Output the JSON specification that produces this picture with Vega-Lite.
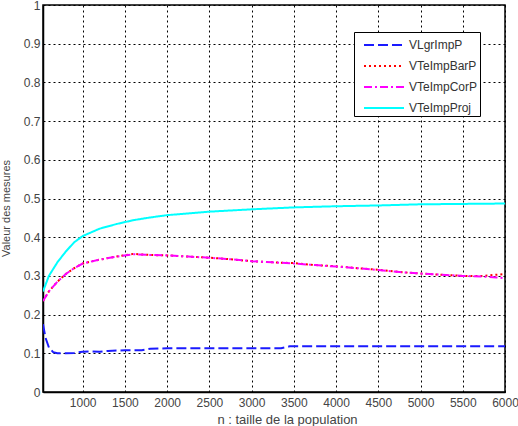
{
  "$schema": "https://vega.github.io/schema/vega-lite/v6.json",
  "autosize": {"type": "none"},
  "width": 462,
  "height": 387,
  "padding": {"left": 43, "top": 5, "right": 13, "bottom": 34},
  "background": "white",
  "config": {
    "view": {"stroke": "black", "strokeWidth": 1.5},
    "font": "Liberation Sans",
    "axis": {
      "labelColor": "#444444",
      "titleColor": "#444444",
      "labelFont": "Liberation Sans",
      "titleFont": "Liberation Sans",
      "labelFontSize": 12,
      "titleFontSize": 11,
      "titleFontWeight": "normal",
      "domainColor": "black",
      "domainWidth": 1.5,
      "gridColor": "black",
      "gridOpacity": 1,
      "gridDash": [2, 3],
      "gridWidth": 1,
      "ticks": false
    }
  },
  "data": {"values": [
    {"n": 530, "s": "VLgrImpP", "v": 0.175},
    {"n": 560, "s": "VLgrImpP", "v": 0.14},
    {"n": 600, "s": "VLgrImpP", "v": 0.115},
    {"n": 650, "s": "VLgrImpP", "v": 0.103},
    {"n": 700, "s": "VLgrImpP", "v": 0.1},
    {"n": 800, "s": "VLgrImpP", "v": 0.1},
    {"n": 900, "s": "VLgrImpP", "v": 0.101},
    {"n": 1000, "s": "VLgrImpP", "v": 0.104},
    {"n": 1100, "s": "VLgrImpP", "v": 0.105},
    {"n": 1200, "s": "VLgrImpP", "v": 0.104},
    {"n": 1300, "s": "VLgrImpP", "v": 0.106},
    {"n": 1500, "s": "VLgrImpP", "v": 0.108},
    {"n": 1700, "s": "VLgrImpP", "v": 0.108},
    {"n": 1800, "s": "VLgrImpP", "v": 0.112},
    {"n": 2000, "s": "VLgrImpP", "v": 0.113},
    {"n": 2500, "s": "VLgrImpP", "v": 0.113},
    {"n": 3000, "s": "VLgrImpP", "v": 0.113},
    {"n": 3350, "s": "VLgrImpP", "v": 0.113},
    {"n": 3450, "s": "VLgrImpP", "v": 0.118},
    {"n": 4000, "s": "VLgrImpP", "v": 0.118},
    {"n": 4500, "s": "VLgrImpP", "v": 0.118},
    {"n": 5000, "s": "VLgrImpP", "v": 0.118},
    {"n": 5500, "s": "VLgrImpP", "v": 0.118},
    {"n": 6000, "s": "VLgrImpP", "v": 0.118},

    {"n": 530, "s": "VTeImpBarP", "v": 0.235},
    {"n": 600, "s": "VTeImpBarP", "v": 0.26},
    {"n": 700, "s": "VTeImpBarP", "v": 0.285},
    {"n": 800, "s": "VTeImpBarP", "v": 0.305},
    {"n": 900, "s": "VTeImpBarP", "v": 0.32},
    {"n": 1000, "s": "VTeImpBarP", "v": 0.332},
    {"n": 1200, "s": "VTeImpBarP", "v": 0.342},
    {"n": 1400, "s": "VTeImpBarP", "v": 0.35},
    {"n": 1600, "s": "VTeImpBarP", "v": 0.357},
    {"n": 1800, "s": "VTeImpBarP", "v": 0.354},
    {"n": 2000, "s": "VTeImpBarP", "v": 0.353},
    {"n": 2250, "s": "VTeImpBarP", "v": 0.35},
    {"n": 2500, "s": "VTeImpBarP", "v": 0.347},
    {"n": 2750, "s": "VTeImpBarP", "v": 0.343},
    {"n": 3000, "s": "VTeImpBarP", "v": 0.338},
    {"n": 3250, "s": "VTeImpBarP", "v": 0.335},
    {"n": 3500, "s": "VTeImpBarP", "v": 0.333},
    {"n": 3750, "s": "VTeImpBarP", "v": 0.328},
    {"n": 4000, "s": "VTeImpBarP", "v": 0.325},
    {"n": 4250, "s": "VTeImpBarP", "v": 0.32},
    {"n": 4500, "s": "VTeImpBarP", "v": 0.316},
    {"n": 4750, "s": "VTeImpBarP", "v": 0.31},
    {"n": 5000, "s": "VTeImpBarP", "v": 0.306},
    {"n": 5250, "s": "VTeImpBarP", "v": 0.303},
    {"n": 5500, "s": "VTeImpBarP", "v": 0.3},
    {"n": 5750, "s": "VTeImpBarP", "v": 0.3},
    {"n": 5900, "s": "VTeImpBarP", "v": 0.303},
    {"n": 6000, "s": "VTeImpBarP", "v": 0.305},

    {"n": 530, "s": "VTeImpCorP", "v": 0.235},
    {"n": 600, "s": "VTeImpCorP", "v": 0.26},
    {"n": 700, "s": "VTeImpCorP", "v": 0.285},
    {"n": 800, "s": "VTeImpCorP", "v": 0.305},
    {"n": 900, "s": "VTeImpCorP", "v": 0.32},
    {"n": 1000, "s": "VTeImpCorP", "v": 0.332},
    {"n": 1200, "s": "VTeImpCorP", "v": 0.342},
    {"n": 1400, "s": "VTeImpCorP", "v": 0.35},
    {"n": 1600, "s": "VTeImpCorP", "v": 0.356},
    {"n": 1800, "s": "VTeImpCorP", "v": 0.354},
    {"n": 2000, "s": "VTeImpCorP", "v": 0.353},
    {"n": 2250, "s": "VTeImpCorP", "v": 0.35},
    {"n": 2500, "s": "VTeImpCorP", "v": 0.347},
    {"n": 2750, "s": "VTeImpCorP", "v": 0.343},
    {"n": 3000, "s": "VTeImpCorP", "v": 0.338},
    {"n": 3250, "s": "VTeImpCorP", "v": 0.335},
    {"n": 3500, "s": "VTeImpCorP", "v": 0.332},
    {"n": 3750, "s": "VTeImpCorP", "v": 0.328},
    {"n": 4000, "s": "VTeImpCorP", "v": 0.324},
    {"n": 4250, "s": "VTeImpCorP", "v": 0.32},
    {"n": 4500, "s": "VTeImpCorP", "v": 0.315},
    {"n": 4750, "s": "VTeImpCorP", "v": 0.31},
    {"n": 5000, "s": "VTeImpCorP", "v": 0.306},
    {"n": 5250, "s": "VTeImpCorP", "v": 0.303},
    {"n": 5500, "s": "VTeImpCorP", "v": 0.3},
    {"n": 5750, "s": "VTeImpCorP", "v": 0.298},
    {"n": 5900, "s": "VTeImpCorP", "v": 0.296},
    {"n": 6000, "s": "VTeImpCorP", "v": 0.294},

    {"n": 530, "s": "VTeImpProj", "v": 0.26},
    {"n": 600, "s": "VTeImpProj", "v": 0.3},
    {"n": 700, "s": "VTeImpProj", "v": 0.335},
    {"n": 800, "s": "VTeImpProj", "v": 0.363},
    {"n": 900, "s": "VTeImpProj", "v": 0.387},
    {"n": 1000, "s": "VTeImpProj", "v": 0.403},
    {"n": 1200, "s": "VTeImpProj", "v": 0.422},
    {"n": 1400, "s": "VTeImpProj", "v": 0.434},
    {"n": 1600, "s": "VTeImpProj", "v": 0.444},
    {"n": 1800, "s": "VTeImpProj", "v": 0.451},
    {"n": 2000, "s": "VTeImpProj", "v": 0.457},
    {"n": 2500, "s": "VTeImpProj", "v": 0.466},
    {"n": 3000, "s": "VTeImpProj", "v": 0.472},
    {"n": 3500, "s": "VTeImpProj", "v": 0.477},
    {"n": 4000, "s": "VTeImpProj", "v": 0.48},
    {"n": 4500, "s": "VTeImpProj", "v": 0.482},
    {"n": 5000, "s": "VTeImpProj", "v": 0.485},
    {"n": 5500, "s": "VTeImpProj", "v": 0.486},
    {"n": 6000, "s": "VTeImpProj", "v": 0.487}
  ]},
  "mark": {"type": "line", "clip": true},
  "encoding": {
    "x": {
      "field": "n", "type": "quantitative",
      "scale": {"domain": [530, 6000], "nice": false, "zero": false},
      "axis": {
        "title": "n : taille de la population",
        "titleFontSize": 13,
        "titleX": 244,
        "titleAlign": "center",
        "values": [1000, 1500, 2000, 2500, 3000, 3500, 4000, 4500, 5000, 5500, 6000],
        "format": "d",
        "labelPadding": 5,
        "titlePadding": 5,
        "labelOverlap": false,
        "labelFlush": false
      }
    },
    "y": {
      "field": "v", "type": "quantitative",
      "scale": {"domain": [0, 1], "nice": false},
      "axis": {
        "title": "Valeur des mesures",
        "values": [0, 0.1, 0.2, 0.3, 0.4, 0.5, 0.6, 0.7, 0.8, 0.9, 1],
        "format": "~g",
        "labelPadding": 3,
        "titleX": -37,
        "titleY": 203,
        "titleAngle": -90,
        "titleAlign": "center",
        "titleBaseline": "middle",
        "labelOverlap": false,
        "labelFlush": false
      }
    },
    "color": {
      "field": "s", "type": "nominal",
      "scale": {
        "domain": ["VLgrImpP", "VTeImpBarP", "VTeImpCorP", "VTeImpProj"],
        "range": ["#1a1aff", "#ff0000", "#ff00ff", "#00ffff"]
      },
      "legend": {
        "title": null,
        "orient": "none",
        "legendX": 311,
        "legendY": 27,
        "fillColor": "white",
        "strokeColor": "black",
        "padding": 2,
        "symbolType": "M-2,0H2",
        "symbolSize": 400,
        "symbolOffset": 17,
        "symbolStrokeWidth": 2.5,
        "rowPadding": 4,
        "labelFontSize": 12,
        "labelColor": "#333333",
        "labelFont": "Liberation Sans",
        "labelOffset": 14
      }
    },
    "strokeDash": {
      "field": "s", "type": "nominal",
      "scale": {
        "domain": ["VLgrImpP", "VTeImpBarP", "VTeImpCorP", "VTeImpProj"],
        "range": [[10, 4], [2, 3], [8, 3, 2, 3], [1, 0]]
      },
      "legend": null
    },
    "strokeWidth": {
      "field": "s", "type": "nominal",
      "scale": {
        "domain": ["VLgrImpP", "VTeImpBarP", "VTeImpCorP", "VTeImpProj"],
        "range": [2, 2, 2, 3.5]
      },
      "legend": null
    }
  }
}
